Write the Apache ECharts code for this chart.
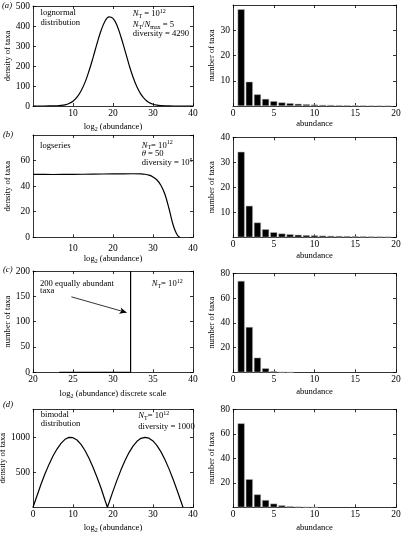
<!DOCTYPE html>
<html><head><meta charset="utf-8">
<script src="https://cdn.jsdelivr.net/npm/echarts@6/dist/echarts.min.js"></script>
<style>html,body{margin:0;padding:0;background:#fff}#c{width:402px;height:534px}</style>
</head><body><div id="c"></div>
<script>
// ---------- data ----------
// (a) lognormal
const aLogX = [0,4,6,7,8,9,10,11,12,13,14,15,16,17,18,19,20,21,22,23,24,25,26,27,28,29,30,31,32,33,34,36,40];
const aDens = [0,0.2,1.2,2.7,6,12.5,24,44,75,118,175,241,312,376,424,446,438,403,345,277,207,145,95,58,33,17.5,8.7,4,1.8,0.7,0.3,0.05,0];
const aAbund = [1,2,3,4,5,6,7,8,9,10,11,12,13,14,15,16,17,18,19];
const aCount = [38.3,9.6,4.6,2.8,1.9,1.4,1.1,0.85,0.7,0.55,0.45,0.4,0.34,0.3,0.26,0.23,0.2,0.18,0.16];
// (b) logseries
const bLogX = [0,5,10,15,20,25,27,28,29,30,31,32,33,34,34.5,35,35.5,36,36.5,36.8];
const bDens = [49.2,49.1,49.2,49.4,49.6,49.7,49.6,49.3,48.6,47.2,44.8,40.5,33.5,22.5,16,10,5.5,2.2,0.3,0];
const bAbund = [1,2,3,4,5,6,7,8,9,10,11,12,13,14,15,16,17,18,19];
const bCount = [34.2,12.6,5.9,3.2,2.0,1.5,1.2,1.0,0.85,0.75,0.65,0.55,0.5,0.45,0.4,0.35,0.3,0.28,0.25];
// (c) equally abundant
const cLogX = [23.3,32.2,32.2];
const cTaxa = [0,0,200];
const cArrowFrom = [24.8,149];
const cArrowTo = [31.7,118];
const cAbund = [1,2,3,4,5,6,7];
const cCount = [73.8,36.6,11.8,3.2,0.8,0.2,0.05];
// (d) bimodal
const dLogX = [0,1,2,3,4,5,6,7,8,9,10,11,12,13,14,15,16,17,18,18.6,19,20,21,22,23,24,25,26,27,28,29,30,31,32,33,34,35,36,37,37.5];
const dDens = [0,166,330,478,613,733,832,914,971,999,994,961,899,812,702,572,429,276,101,0,66,231,388,535,668,782,874,943,985,1000,988,948,882,792,680,549,404,248,83,0];
const dAbund = [1,2,3,4,5,6,7,8,9,10];
const dCount = [68.5,22.9,10.5,5.9,3.0,1.6,0.8,0.5,0.3,0.15];

// ---------- chart ----------
const FONT = '"Liberation Serif","DejaVu Serif",serif';
const AF = 8.6;
const rich = {
  r:{fontFamily:FONT,fontSize:AF,lineHeight:11,color:'#000'},
  i:{fontFamily:FONT,fontSize:AF,fontStyle:'italic',lineHeight:11,color:'#000'},
  sb:{fontFamily:FONT,fontSize:6,lineHeight:6,verticalAlign:'bottom',color:'#000'},
  sp:{fontFamily:FONT,fontSize:6,lineHeight:6,verticalAlign:'top',color:'#000'}
};
const logName = '{r|log}{sb|2}{r| (abundance)}';

const panels = [
  {grid:{left:33,top:6,width:160,height:100}, x:{min:0,max:40,interval:10,showMin:false,margin:2,name:logName,gap:15}, y:{min:0,max:500,interval:100,showMin:true,showMax:true,name:'density of taxa',gap:21}},
  {grid:{left:233,top:5,width:163,height:101}, x:{min:0,max:20,interval:5,showMin:true,margin:2,name:'abundance',gap:13}, y:{min:0,max:40,interval:10,showMin:false,showMax:false,name:'number of taxa',gap:13.5}},
  {grid:{left:33,top:135,width:160,height:102.3}, x:{min:0,max:40,interval:10,showMin:false,margin:6,name:logName,gap:15.5}, y:{min:0,max:80,interval:20,showMin:true,showMax:false,name:'density of taxa',gap:21}},
  {grid:{left:233,top:137.3,width:163,height:100}, x:{min:0,max:20,interval:5,showMin:true,margin:2,name:'abundance',gap:14}, y:{min:0,max:40,interval:10,showMin:false,showMax:true,name:'number of taxa',gap:13.5}},
  {grid:{left:33,top:271,width:160,height:101.3}, x:{min:20,max:40,interval:5,showMin:true,margin:2,name:'{r|log}{sb|2}{r| (abundance) discrete scale}',gap:16}, y:{min:0,max:200,interval:50,showMin:true,showMax:true,name:'number of taxa',gap:21}},
  {grid:{left:233,top:273.3,width:163,height:99}, x:{min:0,max:20,interval:5,showMin:true,margin:2,name:'abundance',gap:15}, y:{min:0,max:80,interval:20,showMin:false,showMax:true,name:'number of taxa',gap:13.5}},
  {grid:{left:33,top:409.3,width:160,height:98}, x:{min:0,max:40,interval:10,showMin:true,margin:2,name:logName,gap:15}, y:{min:0,max:1400,interval:500,showMin:false,showMax:false,name:'density of taxa',gap:21}},
  {grid:{left:233,top:409.3,width:163,height:98}, x:{min:0,max:20,interval:5,showMin:true,margin:2,name:'abundance',gap:15.5}, y:{min:0,max:80,interval:20,showMin:false,showMax:true,name:'number of taxa',gap:13.5}}
];

const lineSt = {color:'#000',width:0.8};
const fmt = v => String(v);
const grid=[], xAxis=[], yAxis=[];
panels.forEach((p,gi)=>{
  grid.push(Object.assign({containLabel:false, outerBoundsMode:'none', show:false}, p.grid));
  const xb = {type:'value',gridIndex:gi,min:p.x.min,max:p.x.max,interval:p.x.interval,splitLine:{show:false},
    axisLine:{onZero:false,lineStyle:lineSt},axisTick:{inside:true,length:3,lineStyle:lineSt}};
  xAxis.push(Object.assign({},xb,{position:'bottom',
    axisLabel:{fontFamily:FONT,fontSize:9.5,color:'#000',margin:p.x.margin,showMinLabel:p.x.showMin,showMaxLabel:true,formatter:fmt},
    name:p.x.name,nameLocation:'middle',nameGap:p.x.gap,
    nameTextStyle:{fontFamily:FONT,fontSize:AF,color:'#000',rich:rich}}));
  xAxis.push(Object.assign({},xb,{position:'top',axisLabel:{show:false}}));
  const yb = {type:'value',gridIndex:gi,min:p.y.min,max:p.y.max,interval:p.y.interval,splitLine:{show:false},
    axisLine:{show:true,onZero:false,lineStyle:lineSt},axisTick:{show:true,inside:true,length:3,lineStyle:lineSt}};
  yAxis.push(Object.assign({},yb,{position:'left',
    axisLabel:{fontFamily:FONT,fontSize:9.5,color:'#000',margin:3,showMinLabel:p.y.showMin,showMaxLabel:p.y.showMax,formatter:fmt},
    name:p.y.name,nameLocation:'middle',nameGap:p.y.gap,
    nameTextStyle:{fontFamily:FONT,fontSize:AF,color:'#000'}}));
  yAxis.push(Object.assign({},yb,{position:'right',axisLabel:{show:false}}));
});

function pts(xs,ys){return xs.map((x,i)=>[x,ys[i]]);}
function lineSeries(gi,xs,ys,smooth,extra){
  return Object.assign({type:'line',xAxisIndex:2*gi,yAxisIndex:2*gi,data:pts(xs,ys),showSymbol:false,smooth:smooth,
    lineStyle:{color:'#000',width:1.2},itemStyle:{color:'#000'},animation:false,silent:true},extra||{});
}
function barSeries(gi,xs,ys){
  return {type:'bar',xAxisIndex:2*gi,yAxisIndex:2*gi,data:pts(xs,ys),barWidth:7,
    itemStyle:{color:'#000',borderColor:'#b0b0b0',borderWidth:0.5},animation:false,silent:true};
}

const series = [
  lineSeries(0,aLogX,aDens,0.4),
  barSeries(1,aAbund,aCount),
  lineSeries(2,bLogX,bDens,0.3),
  barSeries(3,bAbund,bCount),
  lineSeries(4,cLogX,cTaxa,false,{markLine:{silent:true,symbol:['none','arrow'],symbolSize:[5,7],
    lineStyle:{color:'#000',width:0.8,type:'solid'},label:{show:false},animation:false,
    data:[[{coord:cArrowFrom},{coord:cArrowTo}]]}}),
  barSeries(5,cAbund,cCount),
  lineSeries(6,dLogX,dDens,false),
  barSeries(7,dAbund,dCount)
];

function txt(x,y,t,italic){
  return {type:'text',x:x,y:y,silent:true,style:{text:t,rich:rich,fontFamily:FONT,fontSize:AF,fontStyle:italic?'italic':'normal',fill:'#000',verticalAlign:'middle',align:'left'}};
}
const graphic = [
  txt(2,6,'(a)',true), txt(3,135,'(b)',true), txt(3,270,'(c)',true), txt(3,405,'(d)',true),
  txt(40.5,12.7,'lognormal'), txt(40.5,22.7,'distribution'),
  txt(132.7,14,'{i|N}{sb|T}{r| = 10}{sp|12}'), txt(132.7,24.7,'{i|N}{sb|T}{r|/}{i|N}{sb|max}{r| = 5}'), txt(132.7,33.6,'{r|diversity = 4290}'),
  txt(40,145.3,'logseries'),
  txt(141.7,145.3,'{i|N}{sb|T}{r|= 10}{sp|12}'), txt(141.7,154,'{i|θ}{r| = 50}'), txt(141.7,162.7,'{r|diversity = 10}{sp|5}'),
  txt(40,283.3,'200 equally abundant'), txt(40,290.7,'taxa'),
  txt(151.7,284,'{i|N}{sb|T}{r|= 10}{sp|12}'),
  txt(40.7,415,'bimodal'), txt(40.7,424,'distribution'),
  txt(138.3,415.7,'{i|N}{sb|T}{r|= 10}{sp|12}'), txt(138.3,426.7,'{r|diversity = 1000}')
];

const chart = echarts.init(document.getElementById('c'));
chart.setOption({animation:false,backgroundColor:'#fff',grid,xAxis,yAxis,series,graphic});
</script></body></html>
